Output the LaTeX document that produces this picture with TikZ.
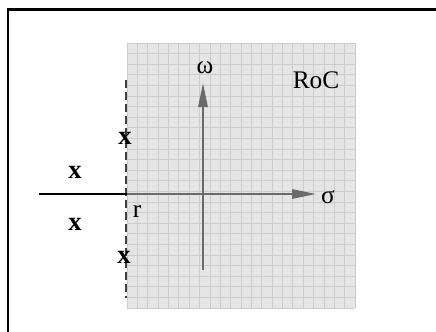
\documentclass[tikz,border=0pt]{standalone}
\usepackage{fontspec}
\setmainfont{Liberation Serif}
\usetikzlibrary{arrows.meta, positioning}
\definecolor{axisgray}{gray}{0.42}
\definecolor{rocfill}{gray}{0.9}
\definecolor{rocgrid}{gray}{0.8}
\begin{document}
\begin{tikzpicture}[
    x=0.75pt, y=-0.75pt,
    lbl/.style={inner sep=0pt, font=\fontsize{19}{22}\selectfont},
    pole/.style={inner sep=0pt, font=\fontsize{20}{22}\selectfont\bfseries},
    axis/.style={line width=1.5pt, draw=axisgray, -{Triangle[length=18pt, width=7pt, fill=axisgray]}},
    gridline/.style={draw=rocgrid, line width=0.5pt},
    border/.style={dash pattern=on 6pt off 3pt, line width=1.4pt, draw=black!75}
  ]
    \useasboundingbox (0,0) rectangle (436,332);
    % region of convergence
    \fill[rocfill] (127,43) rectangle (355,308);
    \foreach \i in {0,...,22}
      \draw[gridline] ({127+\i*10.36},43) -- ({127+\i*10.36},308);
    \foreach \j in {0,...,25}
      \draw[gridline] (127,{43+\j*10.6}) -- (355,{43+\j*10.6});
    % frame
    \draw[line width=1.6pt] (8,334) -- (8,9.5) -- (438,9.5);
    \coordinate (west) at (39,194);
    \coordinate (cut) at (127,194);
    \coordinate (east) at (316,194);
    \coordinate (south) at (203,270);
    \coordinate (north) at (203,83);
    \coordinate (top) at (126,80);
    \coordinate (bottom) at (126,298);
    \draw[border] (top) -- (bottom);
    \draw[line width=1.5pt] (west) -- (cut);
    \draw[axis] (cut) -- (east);
    \draw[axis] (south) -- (north);
    \node[lbl] (omega) at (205,68) {ω};
    \node[lbl] (sigma) at (328,197) {σ};
    \node[lbl] (roc) at (316,80) {RoC};
    \node[lbl] (r) at (137,212) {r};
    \node[pole] (p1) at (125,138) {x};
    \node[pole] (p2) at (75,172) {x};
    \node[pole] (p3) at (75,224) {x};
    \node[pole] (p4) at (124,257) {x};
\end{tikzpicture}
\end{document}
